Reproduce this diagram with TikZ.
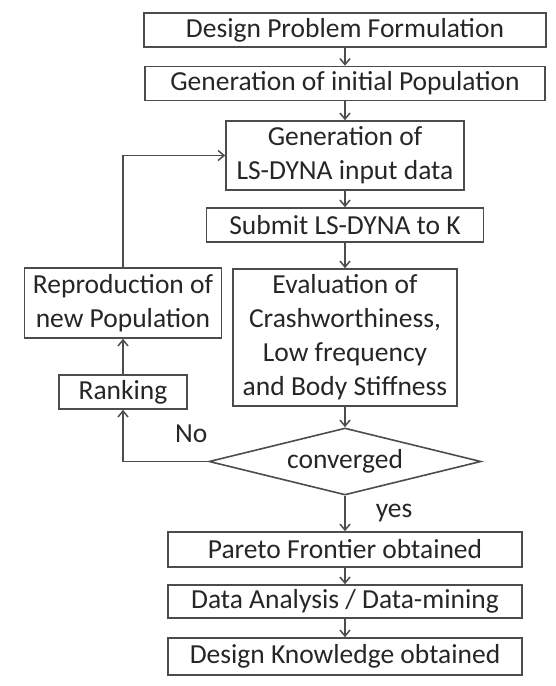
\documentclass[tikz,border=0pt]{standalone}
\usepackage{fontspec}
\setmainfont{Carlito}
\usetikzlibrary{arrows.meta, shapes.geometric, positioning}

\tikzset{
  block/.style={draw=black!70, line width=1.6pt, text=black!85, align=center,
    inner sep=0pt, minimum height=34pt},
  decision/.style={diamond, draw=black!70, line width=1.6pt, text=black!85,
    aspect=4, inner sep=0pt, minimum width=272pt, minimum height=67pt},
  flow/.style={draw=black!70, line width=1.5pt, -{Straight Barb[length=6pt,width=10pt]}},
  lbl/.style={text=black!85, inner sep=0pt},
}

\begin{document}
\begin{tikzpicture}[x=1pt, y=-1pt, node distance=50pt, on grid,
    font=\fontsize{27.5}{34}\selectfont]
  \useasboundingbox (0,0) rectangle (556,686);

  % main column
  \node[block, minimum width=402pt]                     (dpf)   at (345,30)          {Design Problem Formulation};
  \node[block, minimum width=400pt]                     (gip)   [below=53.5pt of dpf] {Generation of initial Population};
  \node[block, minimum width=238pt, minimum height=69pt] (gen)   [below=72pt of gip]   {Generation of\\LS-DYNA input data};
  \node[block, minimum width=277pt]                     (sub)   [below=69.5pt of gen] {Submit LS-DYNA to K};
  \node[block, minimum width=224pt, minimum height=137pt] (eval) [below=112.5pt of sub] {Evaluation of\\Crashworthiness,\\Low frequency\\and Body Stiffness};
  \node[decision]                                       (conv)  [below=124pt of eval] {converged};
  \node[block, minimum width=354pt, minimum height=35pt] (pto)   [below=88pt of conv]  {Pareto Frontier obtained};
  \node[block, minimum width=354pt, minimum height=33pt] (dam)   [below=52pt of pto]   {Data Analysis / Data-mining};
  \node[block, minimum width=354pt, minimum height=37pt] (dko)   [below=55pt of dam]   {Design Knowledge obtained};

  % loop back
  \node[block, minimum width=128pt]                     (rank)  [above left=69.5pt and 222pt of conv] {Ranking};
  \node[block, minimum width=197pt, minimum height=70pt] (repro) [above=89pt of rank]  {Reproduction of\\new Population};

  \draw[flow] (dpf) -- (gip);
  \draw[flow] (gip) -- (gen);
  \draw[flow] (gen) -- (sub);
  \draw[flow] (sub) -- (eval);
  \draw[flow] (eval) -- (conv);
  \draw[flow] (conv) -- node[lbl, right=30pt] (yes) {yes} (pto);
  \draw[flow] (pto) -- (dam);
  \draw[flow] (dam) -- (dko);
  \draw[flow] (conv.west) -| node[lbl, pos=0.1, above=18pt] (no) {No} (rank);
  \draw[flow] (rank) -- (repro);
  \draw[flow] (repro) |- (gen.west);
\end{tikzpicture}
\end{document}
